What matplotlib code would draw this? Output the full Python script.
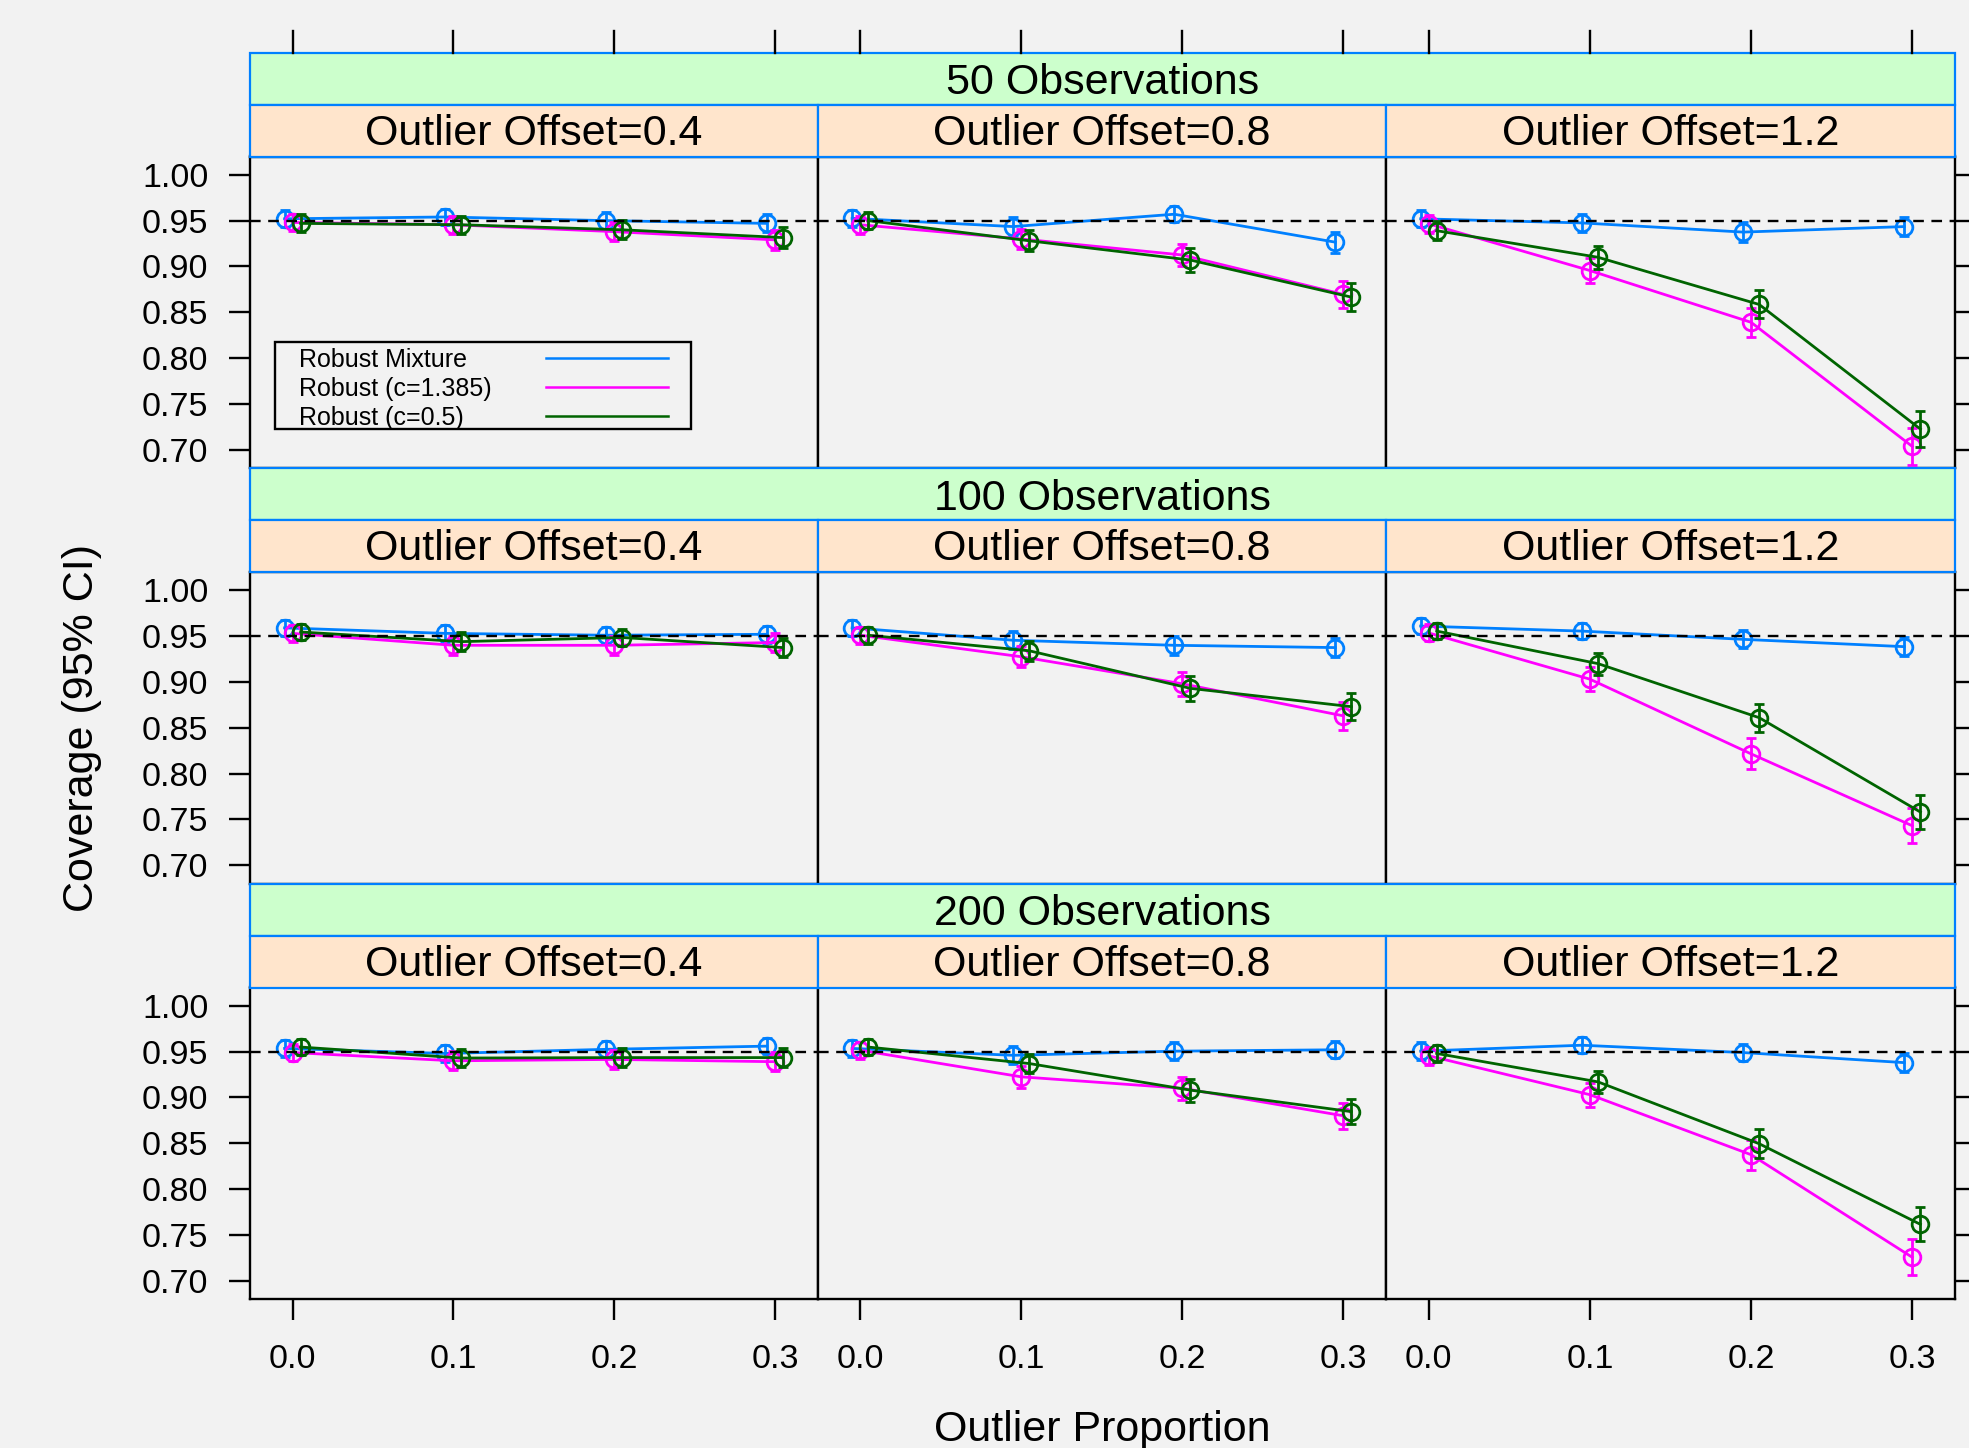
import numpy as np
import matplotlib
matplotlib.use('Agg')
import matplotlib.pyplot as plt
from matplotlib.transforms import blended_transform_factory
from matplotlib.patches import Rectangle
from matplotlib.lines import Line2D

plt.rcParams['font.family'] = ['Liberation Sans', 'DejaVu Sans']

# ---------------- data ----------------
proportions = [0.0, 0.1, 0.2, 0.3]
obs_labels = ['50 Observations', '100 Observations', '200 Observations']
offset_labels = ['Outlier Offset=0.4', 'Outlier Offset=0.8', 'Outlier Offset=1.2']
methods = ['Robust Mixture', 'Robust (c=1.385)', 'Robust (c=0.5)']
colors = ['#0080FF', '#FF00FF', '#006400']
N_REPS = 2000  # simulation replicates used for binomial 95% CI

# coverage per method, rows = offset 0.4 / 0.8 / 1.2, cols = outlier proportion
mix_n50 = [[0.952, 0.954, 0.950, 0.947],
           [0.9525, 0.9435, 0.957, 0.9265],
           [0.952, 0.9475, 0.9375, 0.9435]]
c1385_n50 = [[0.948, 0.9455, 0.938, 0.929],
             [0.9455, 0.930, 0.9125, 0.8695],
             [0.9465, 0.8955, 0.839, 0.7035]]
c05_n50 = [[0.947, 0.9455, 0.940, 0.9315],
           [0.950, 0.928, 0.907, 0.8665],
           [0.939, 0.910, 0.8585, 0.7225]]

mix_n100 = [[0.959, 0.953, 0.951, 0.952],
            [0.959, 0.9455, 0.940, 0.9375],
            [0.961, 0.9555, 0.9465, 0.9385]]
c1385_n100 = [[0.953, 0.940, 0.940, 0.943],
              [0.951, 0.9275, 0.898, 0.863],
              [0.9535, 0.903, 0.8215, 0.743]]
c05_n100 = [[0.9545, 0.944, 0.9485, 0.9375],
            [0.951, 0.934, 0.893, 0.873],
            [0.9555, 0.920, 0.861, 0.758]]

mix_n200 = [[0.9535, 0.948, 0.9525, 0.956],
            [0.9535, 0.946, 0.9505, 0.952],
            [0.9505, 0.957, 0.949, 0.938]]
c1385_n200 = [[0.949, 0.940, 0.9415, 0.939],
              [0.9515, 0.9225, 0.910, 0.880],
              [0.9455, 0.903, 0.8375, 0.7255]]
c05_n200 = [[0.955, 0.943, 0.9435, 0.9435],
            [0.955, 0.937, 0.908, 0.8845],
            [0.948, 0.917, 0.8495, 0.7615]]

coverage = [[mix_n50, c1385_n50, c05_n50],
            [mix_n100, c1385_n100, c05_n100],
            [mix_n200, c1385_n200, c05_n200]]
jitter = [-0.005, 0.0, 0.005]
nominal = 0.95
y_ticks = [0.70, 0.75, 0.80, 0.85, 0.90, 0.95, 1.00]

# ---------------- layout (pixels) ----------------
W, H = 1969, 1448
BG = '#F2F2F2'
fig = plt.figure(figsize=(W / 100, H / 100), dpi=100, facecolor=BG)

def fx(x):
    return x / W

def fy(y):
    return 1 - y / H

col_x = [250, 817.5, 1386, 1955]
row_top0 = 52.5
pitch = 415.5
strip_h = 52
panel_h = 311.5
XLIM = (-0.0265, 0.3265)
YLIM = (0.680, 1.020)
TICKLEN = 14.8
LW = 1.7
SLW = 2.0
STRIP_FS = 31
TICK_FS = 24.5

axes = {}
for r in range(3):
    top = row_top0 + r * pitch
    # outer strip (observations)
    fig.patches.append(Rectangle((fx(col_x[0]), fy(top + strip_h)),
                                 fx(col_x[3]) - fx(col_x[0]), strip_h / H,
                                 transform=fig.transFigure, facecolor='#CCFFCC',
                                 edgecolor='#0080FF', lw=1.6, zorder=1))
    fig.text(fx((col_x[0] + col_x[3]) / 2), fy(top + strip_h / 2 + 4.5), obs_labels[r],
             ha='center', va='center', fontsize=STRIP_FS)
    for c in range(3):
        # inner strip (offset)
        fig.patches.append(Rectangle((fx(col_x[c]), fy(top + 2 * strip_h)),
                                     fx(col_x[c + 1]) - fx(col_x[c]), strip_h / H,
                                     transform=fig.transFigure, facecolor='#FFE5CC',
                                     edgecolor='#0080FF', lw=1.6, zorder=1))
        fig.text(fx((col_x[c] + col_x[c + 1]) / 2), fy(top + 1.5 * strip_h + 3.5),
                 offset_labels[c], ha='center', va='center', fontsize=STRIP_FS)

        ptop = top + 2 * strip_h
        ax = fig.add_axes([fx(col_x[c]), fy(ptop + panel_h),
                           fx(col_x[c + 1]) - fx(col_x[c]), panel_h / H])
        ax.set_facecolor(BG)
        ax.set_xlim(*XLIM)
        ax.set_ylim(*YLIM)
        for s in ax.spines.values():
            s.set_linewidth(LW)
        ax.set_xticks(proportions)
        ax.set_yticks(y_ticks)
        ax.set_xticklabels(['%.1f' % p for p in proportions])
        ax.set_yticklabels(['%.2f' % v for v in y_ticks])
        ax.tick_params(direction='out', length=TICKLEN, width=LW, labelsize=TICK_FS)
        ax.tick_params(axis='x', top=False, bottom=(r == 2), labelbottom=(r == 2), pad=17.5)
        ax.tick_params(axis='y', left=(c == 0), labelleft=(c == 0),
                       right=(c == 2), labelright=False, pad=15)

        ax.axhline(nominal, color='black', lw=LW, ls=(0, (4.5, 3.2)), zorder=5)
        for m in range(3):
            vals = np.array(coverage[r][m][c])
            err = 1.96 * np.sqrt(vals * (1 - vals) / N_REPS)
            xs = np.array(proportions) + jitter[m]
            ax.errorbar(xs, vals, yerr=err, color=colors[m], lw=SLW,
                        marker='o', ms=12, mfc='none', mec=colors[m], mew=SLW,
                        capsize=3.8, capthick=SLW, elinewidth=SLW, zorder=3 + m * 0.1)
        axes[(r, c)] = ax

        # top ticks above the strips for top row
        if r == 0:
            tr = blended_transform_factory(ax.transData, fig.transFigure)
            for p in proportions:
                fig.lines.append(Line2D([p, p], [fy(31), fy(52.5)], transform=tr,
                                        color='black', lw=LW))

# ---------------- legend ----------------
fig.patches.append(Rectangle((fx(275), fy(429.4)), fx(690.6) - fx(275), (429.4 - 341.5) / H,
                             transform=fig.transFigure, facecolor='none',
                             edgecolor='black', lw=LW, zorder=10))
for i, (name, col) in enumerate(zip(methods, colors)):
    yy = [357.5, 386.5, 415.5][i]
    fig.text(fx(299), fy(yy + 2.5), name, ha='left', va='center', fontsize=18, zorder=11)
    fig.lines.append(Line2D([fx(546), fx(668)], [fy(yy), fy(yy)], transform=fig.transFigure,
                            color=col, lw=1.8, zorder=11))

# ---------------- axis labels ----------------
fig.text(fx(82), fy(728), 'Coverage (95% CI)', rotation=90, ha='center', va='center',
         fontsize=STRIP_FS)
fig.text(fx(1102.5), fy(1429.5), 'Outlier Proportion', ha='center', va='center',
         fontsize=STRIP_FS)

fig.savefig('out.png', dpi=100, facecolor=BG)
